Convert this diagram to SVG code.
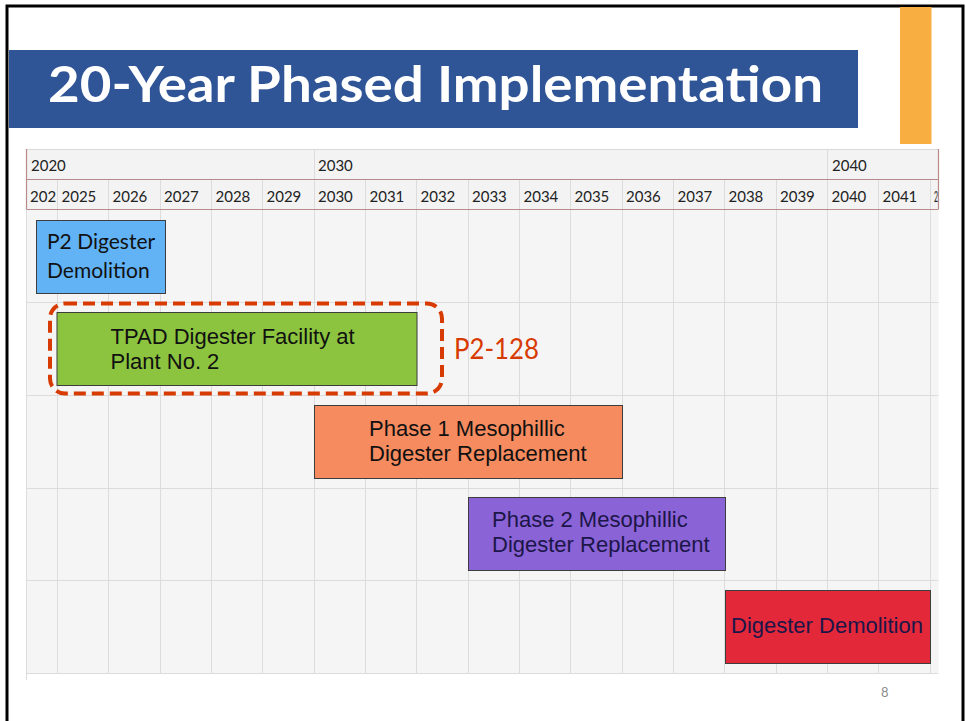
<svg xmlns="http://www.w3.org/2000/svg" width="966" height="721" viewBox="0 0 966 721">
<defs>
<style>
.cal{font-family:Lato,"Open Sans","Liberation Sans",sans-serif}
.ari{font-family:"Liberation Sans",Arial,sans-serif;font-size:22px}
.yr{font-family:Lato,"Open Sans","Liberation Sans",sans-serif;font-size:15px;fill:#222}
.grid{stroke:#dcdcdc;stroke-width:1;fill:none}
.hdr{stroke:#b98a8a;stroke-width:1.2;fill:none}
.bar{stroke:#3d3d3d;stroke-width:1}
</style>
</defs>
<rect width="966" height="721" fill="#ffffff"/>
<!-- slide frame -->
<path d="M7,721 V6 H963 V721" fill="none" stroke="#000" stroke-width="3"/>
<!-- orange accent -->
<rect x="900" y="7" width="31.5" height="137" fill="#f9ae41"/>
<!-- title bar -->
<g id="title">
<rect x="9" y="50" width="849" height="78" fill="#2f5597"/>
<text x="48" y="102" class="cal" font-size="50" font-weight="bold" fill="#ffffff" textLength="775" lengthAdjust="spacingAndGlyphs">20-Year Phased Implementation</text>
</g>
<!-- chart background -->
<g id="chart">
<rect x="26.5" y="149" width="912" height="60" fill="#f3f3f3"/>
<rect x="26.5" y="209" width="912" height="464" fill="#f5f5f5"/>
<line x1="26.5" y1="149.5" x2="938.5" y2="149.5" stroke="#d9d9d9"/>
<g class="grid">
<path d="M314.5,149V179M827.5,149V179"/>
<path d="M57.5,179V673M108.5,179V673M160.5,179V673M211.5,179V673M262.5,179V673M314.5,179V673M365.5,179V673M416.5,179V673M468.5,179V673M519.5,179V673M570.5,179V673M622.5,179V673M673.5,179V673M724.5,179V673M776.5,179V673M827.5,179V673M878.5,179V673M930.5,179V673"/>
<path d="M26.5,302.5H938.5M26.5,395.5H938.5M26.5,488.5H938.5M26.5,580.5H938.5M26.5,673.5H938.5"/>
<path d="M26.5,209V680"/>
</g>
<g class="hdr">
<path d="M26.5,149V209M938.5,149V209M26.5,179.5H938.5M26.5,209.5H938.5"/>
</g>
<g id="years">
<text class="yr" x="31" y="171">2020</text>
<text class="yr" x="318" y="171">2030</text>
<text class="yr" x="832" y="171">2040</text>
<text class="yr" x="30" y="202">202</text>
<text class="yr" x="61.5" y="202">2025</text>
<text class="yr" x="112.5" y="202">2026</text>
<text class="yr" x="164" y="202">2027</text>
<text class="yr" x="215.5" y="202">2028</text>
<text class="yr" x="266.5" y="202">2029</text>
<text class="yr" x="318" y="202">2030</text>
<text class="yr" x="369.5" y="202">2031</text>
<text class="yr" x="420.5" y="202">2032</text>
<text class="yr" x="472" y="202">2033</text>
<text class="yr" x="523.5" y="202">2034</text>
<text class="yr" x="574.5" y="202">2035</text>
<text class="yr" x="626" y="202">2036</text>
<text class="yr" x="677.5" y="202">2037</text>
<text class="yr" x="728.5" y="202">2038</text>
<text class="yr" x="780" y="202">2039</text>
<text class="yr" x="831.5" y="202">2040</text>
<text class="yr" x="882.5" y="202">2041</text>
<text class="yr" x="934" y="202" textLength="4" lengthAdjust="spacingAndGlyphs">2</text>
</g>
</g>
<!-- bars -->
<g id="p2-demolition">
<rect class="bar" x="36.5" y="220.5" width="129" height="73" fill="#62b3f5"/>
<text class="cal" font-size="21" fill="#111" x="47" y="249">P2 Digester</text>
<text class="cal" font-size="21" fill="#111" x="47" y="277.5">Demolition</text>
</g>
<g id="tpad">
<rect class="bar" x="57" y="312.5" width="360" height="73" fill="#8cc43f"/>
<text class="ari" fill="#111" x="110.5" y="343.5">TPAD Digester Facility at</text>
<text class="ari" fill="#111" x="110.5" y="368.5">Plant No. 2</text>
</g>
<g id="p2-128">
<rect x="50" y="303.5" width="392" height="90" rx="15" ry="15" fill="none" stroke="#d83b01" stroke-width="4" stroke-dasharray="12 6"/>
<text class="cal" font-size="28" fill="#d83b01" x="454" y="358.5" textLength="85" lengthAdjust="spacingAndGlyphs">P2-128</text>
</g>
<g id="phase1">
<rect class="bar" x="314.5" y="405.5" width="308" height="73" fill="#f58b5f"/>
<text class="ari" fill="#111" x="369" y="436">Phase 1 Mesophillic</text>
<text class="ari" fill="#111" x="369" y="461">Digester Replacement</text>
</g>
<g id="phase2">
<rect class="bar" x="468.5" y="497.5" width="257" height="73" fill="#8a63d7"/>
<text class="ari" fill="#1c1648" x="492" y="526.5">Phase 2 Mesophillic</text>
<text class="ari" fill="#1c1648" x="492" y="551.5">Digester Replacement</text>
</g>
<g id="digester-demolition">
<rect class="bar" x="725.5" y="590.5" width="205" height="73" fill="#e3283a"/>
<text class="ari" fill="#1c1648" x="731" y="632.5">Digester Demolition</text>
</g>
<g id="connectors"/>
<text class="cal" font-size="13" fill="#8c8c8c" x="881" y="697">8</text>
</svg>
